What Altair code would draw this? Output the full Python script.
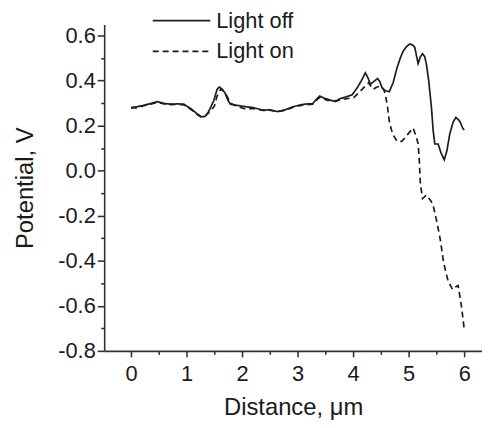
import altair as alt
import pandas as pd

# Light off (solid)
off_x = [0.00, 0.10, 0.23, 0.35, 0.47, 0.60, 0.71, 0.85, 0.95, 1.09, 1.20, 1.27, 1.33, 1.39,
         1.49, 1.55, 1.59, 1.64, 1.69, 1.75, 1.79, 1.90, 2.08, 2.20, 2.375, 2.50, 2.64, 2.78,
         2.91, 3.02, 3.12, 3.27, 3.35, 3.40, 3.47, 3.54, 3.68, 3.75, 3.83, 3.98, 4.08, 4.15,
         4.22, 4.27, 4.31, 4.37, 4.44, 4.48, 4.52, 4.58, 4.65, 4.72, 4.79, 4.85, 4.90, 4.96,
         5.02, 5.07, 5.11, 5.14, 5.17, 5.21, 5.25, 5.29, 5.32, 5.36, 5.41, 5.44, 5.47, 5.53,
         5.58, 5.64, 5.69, 5.74, 5.80, 5.85, 5.90, 5.93, 5.97, 6.00]
off_y = [0.280, 0.283, 0.290, 0.297, 0.306, 0.298, 0.295, 0.296, 0.295, 0.273, 0.250, 0.239, 0.240, 0.258,
         0.310, 0.360, 0.371, 0.362, 0.346, 0.310, 0.295, 0.290, 0.283, 0.280, 0.268, 0.270, 0.262, 0.270,
         0.283, 0.290, 0.295, 0.297, 0.320, 0.331, 0.322, 0.317, 0.306, 0.318, 0.324, 0.336, 0.370, 0.400,
         0.434, 0.410, 0.383, 0.395, 0.409, 0.395, 0.368, 0.355, 0.350, 0.390, 0.456, 0.500, 0.530, 0.550,
         0.562, 0.558, 0.547, 0.510, 0.475, 0.505, 0.519, 0.505, 0.471, 0.400, 0.280, 0.180, 0.118, 0.118,
         0.080, 0.048, 0.090, 0.163, 0.215, 0.236, 0.225, 0.214, 0.190, 0.180]

# Light on (dashed)
on_x = [0.00, 0.10, 0.23, 0.35, 0.47, 0.60, 0.71, 0.85, 0.95, 1.09, 1.20, 1.27, 1.35, 1.42,
        1.50, 1.55, 1.62, 1.68, 1.73, 1.79, 1.90, 2.08, 2.20, 2.375, 2.50, 2.64, 2.78, 2.91,
        3.02, 3.12, 3.27, 3.35, 3.40, 3.47, 3.54, 3.71, 3.85, 4.01, 4.10, 4.19, 4.28, 4.36,
        4.42, 4.49, 4.55, 4.58, 4.62, 4.65, 4.69, 4.73, 4.79, 4.875, 4.94, 4.99, 5.05, 5.08,
        5.13, 5.17, 5.19, 5.21, 5.25, 5.32, 5.40, 5.44, 5.50, 5.57, 5.63, 5.71, 5.79, 5.85,
        5.89, 5.95, 6.00]
on_y = [0.278, 0.278, 0.288, 0.295, 0.303, 0.296, 0.293, 0.294, 0.292, 0.270, 0.248, 0.236, 0.245, 0.262,
        0.285, 0.330, 0.362, 0.350, 0.330, 0.300, 0.286, 0.272, 0.276, 0.267, 0.268, 0.262, 0.268, 0.280,
        0.287, 0.292, 0.295, 0.315, 0.325, 0.318, 0.312, 0.310, 0.318, 0.324, 0.345, 0.368, 0.390, 0.361,
        0.370, 0.375, 0.360, 0.339, 0.280, 0.221, 0.180, 0.155, 0.130, 0.130, 0.148, 0.163, 0.180, 0.189,
        0.155, 0.120, 0.050, -0.058, -0.124, -0.109, -0.135, -0.153, -0.219, -0.307, -0.410, -0.491, -0.528, -0.515,
        -0.510, -0.601, -0.704]

series_names = ["Light off", "Light on"]
y_ticks = [-0.8, -0.7, -0.6, -0.5, -0.4, -0.3, -0.2, -0.1, 0.0, 0.1, 0.2, 0.3, 0.4, 0.5, 0.6]
x_ticks = [0, 0.5, 1, 1.5, 2, 2.5, 3, 3.5, 4, 4.5, 5, 5.5, 6]

rows = []
for i, (xs, ys) in enumerate([(off_x, off_y), (on_x, on_y)]):
    for k, (a, b) in enumerate(zip(xs, ys)):
        rows.append({"x": a, "y": b, "series": series_names[i], "order": k})
df = pd.DataFrame(rows)

FONT = "Liberation Sans"
AX = "#333333"
TXT = "#1a1a1a"

chart = alt.Chart(df).mark_line(color="#1c1c1c", strokeWidth=1.7).encode(
    x=alt.X("x:Q",
            scale=alt.Scale(domain=[-0.482, 6.32], nice=False, zero=False),
            axis=alt.Axis(title="Distance, μm", values=x_ticks, grid=False,
                          labelExpr="datum.value % 1 == 0 ? format(datum.value, 'd') : ''",
                          tickSize={"condition": {"test": "datum.value % 1 != 0", "value": 3.5}, "value": 6},
                          labelPadding=7, labelFontSize=22, labelFont=FONT, labelColor=TXT,
                          titleFontSize=24, titleFont=FONT, titleFontWeight="normal", titleColor=TXT,
                          titlePadding=11, domainColor=AX, domainWidth=1.6, tickColor=AX, tickWidth=1.6,
                          labelFlush=False, labelOverlap=False)),
    y=alt.Y("y:Q",
            scale=alt.Scale(domain=[-0.8, 0.648], nice=False, zero=False),
            axis=alt.Axis(title="Potential, V", values=y_ticks, grid=False,
                          labelExpr="abs(round(datum.value*10)) % 2 == 0 ? replace(format(datum.value, '.1f'), '\u2212', '-') : ''",
                          tickSize={"condition": {"test": "abs(round(datum.value*10)) % 2 == 1", "value": 3.5}, "value": 7},
                          labelPadding=2, labelFontSize=22, labelFont=FONT, labelColor=TXT,
                          titleFontSize=24, titleFont=FONT, titleFontWeight="normal", titleColor=TXT,
                          titlePadding=20, domainColor=AX, domainWidth=1.6, tickColor=AX, tickWidth=1.6,
                          labelFlush=False, labelOverlap=False)),
    strokeDash=alt.StrokeDash("series:N",
                              scale=alt.Scale(domain=series_names, range=[[1, 0], [6, 4]]),
                              legend=alt.Legend(title=None, orient="none", legendX=67, legendY=-15,
                                                symbolType="M-5,0H5", symbolSize=134.6,
                                                symbolStrokeWidth=1.7, symbolStrokeColor="#1c1c1c",
                                                labelOffset=24, labelFontSize=22, labelFont=FONT,
                                                labelColor=TXT, rowPadding=9, padding=0)),
    order="order:Q",
).properties(
    width=381, height=329,
    autosize=alt.AutoSizeParams(type="none"),
    padding={"left": 97, "top": 15, "right": 0, "bottom": 70},
).configure_view(stroke=None)

chart.save("out.html", embed_options={"renderer": "svg", "actions": False})
